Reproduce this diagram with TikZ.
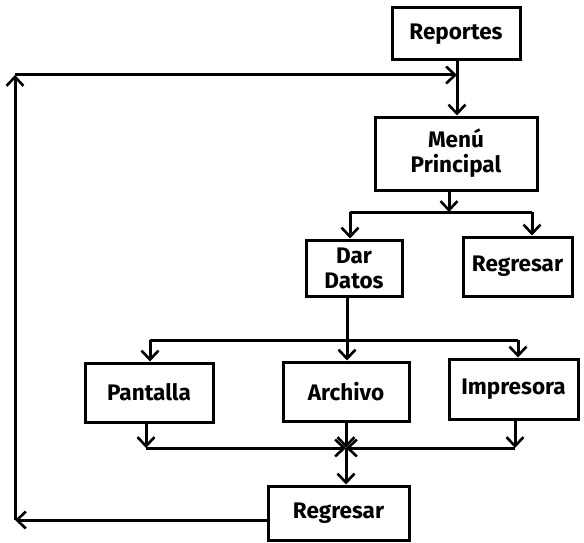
\documentclass[tikz,border=0pt]{standalone}
\usepackage{fontspec}
\setmainfont{Fira Sans}
\usetikzlibrary{arrows.meta}
\begin{document}
\begin{tikzpicture}[x=1pt,y=-1pt,
  box/.style={draw,line width=3pt,inner sep=0pt,font=\fontsize{22.5}{25}\selectfont\bfseries,align=center},
  conn/.style={line width=3pt},
  arr/.style={conn,-{Straight Barb[length=9pt,width=17pt,line width=2.6pt]}}]
\useasboundingbox (0,0) rectangle (584,543);
\node[box,minimum width=128pt,minimum height=52pt] (rep) at (456,34) {Reportes};
\node[box,minimum width=162pt,minimum height=73pt] (menu) at (456,153.5) {Menú\\Principal};
\node[box,minimum width=96pt,minimum height=56pt] (dar) at (354,268) {Dar\\Datos};
\node[box,minimum width=109pt,minimum height=59pt] (reg1) at (517.5,266.5) {Regresar};
\node[box,minimum width=128pt,minimum height=59pt] (pan) at (149,392.5) {Pantalla};
\node[box,minimum width=126pt,minimum height=59pt] (arc) at (346,391.5) {Archivo};
\node[box,minimum width=129pt,minimum height=60pt] (imp) at (513.5,389) {Impresora};
\node[box,minimum width=141pt,minimum height=54pt] (reg2) at (338.5,513) {Regresar};
% coordinates
\coordinate (ur) at (457,75);
\coordinate (ul) at (15,75);
\coordinate (ll) at (15,520);
\coordinate (j1) at (449,212);
\coordinate (b1l) at (350,212);
\coordinate (b1r) at (532,212);
\coordinate (j2) at (347,340);
\coordinate (b2l) at (150,340);
\coordinate (b2r) at (518,340);
\coordinate (m) at (346,448);
\coordinate (ml) at (146,448);
\coordinate (mr) at (515,448);
% top
\draw[arr] (rep.south -| ur) -- (menu.north -| ur);
\draw[arr] (ll -| reg2.west) -- (ll);
\draw[arr] (ll) -- (ul);
\draw[arr] (ul) -- (ur);
% menu branch
\draw[arr] (menu.south -| j1) -- (j1);
\draw[conn] (b1l) -- (b1r);
\draw[arr] (b1l) -- (dar.north -| b1l);
\draw[arr] (b1r) -- (reg1.north -| b1r);
% dar branch
\draw[arr] (dar.south -| j2) -- (arc.north -| j2);
\draw[conn] (b2l) -- (b2r);
\draw[arr] (b2l) -- (pan.north -| b2l);
\draw[arr] (b2r) -- (imp.north -| b2r);
% merge
\draw[arr] (pan.south -| ml) -- (ml);
\draw[arr] (imp.south -| mr) -- (mr);
\draw[arr] (ml) -- (m);
\draw[arr] (mr) -- (m);
\draw[arr] (arc.south -| m) -- (m);
\draw[arr] (m) -- (reg2.north -| m);
\end{tikzpicture}
\end{document}
